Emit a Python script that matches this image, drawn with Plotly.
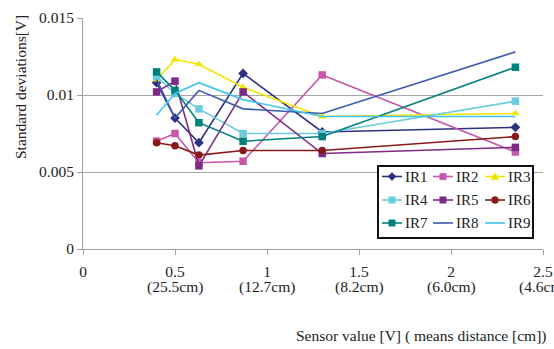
import plotly.graph_objects as go

x_vals = [0.40, 0.50, 0.63, 0.87, 1.30, 2.35]

IR1 = [0.0108, 0.0085, 0.0069, 0.0114, 0.0076, 0.0079]
IR2 = [0.0070, 0.0075, 0.0056, 0.0057, 0.0113, 0.0063]
IR3 = [0.0110, 0.0123, 0.0120, 0.0105, 0.0086, 0.0088]
IR4 = [0.0112, 0.0101, 0.0091, 0.0075, 0.0075, 0.0096]
IR5 = [0.0102, 0.0109, 0.0054, 0.0102, 0.0062, 0.0066]
IR6 = [0.0069, 0.0067, 0.0061, 0.0064, 0.0064, 0.0073]
IR7 = [0.0115, 0.0103, 0.0082, 0.0070, 0.0073, 0.0118]
IR8 = [0.0110, 0.0085, 0.0103, 0.0091, 0.0088, 0.0128]
IR9 = [0.0087, 0.0101, 0.0108, 0.0097, 0.0086, 0.0086]

series_names = ["IR1", "IR2", "IR3", "IR4", "IR5", "IR6", "IR7", "IR8", "IR9"]
series_vals = [IR1, IR2, IR3, IR4, IR5, IR6, IR7, IR8, IR9]
colors = ["#2E3080", "#C657AC", "#F2E600", "#6CCCDE", "#7E2A88",
          "#8A1A1A", "#00817E", "#3D5AAE", "#3EC6F0"]
symbols = ["diamond", "square", "triangle-up", "square", "square",
           "circle", "square", None, None]

x_tickvals = [0, 0.5, 1, 1.5, 2, 2.5]
x_ticktext = ["0", "0.5", "1", "1.5", "2", "2.5"]
x_ticksub = ["", "(25.5cm)", "(12.7cm)", "(8.2cm)", "(6.0cm)", "(4.6cm)"]
y_tickvals = [0, 0.005, 0.01, 0.015]
y_ticktext = ["0", "0.005", "0.01", "0.015"]

FONT = "Liberation Serif, DejaVu Serif, serif"
TXT = "#222222"
W, H = 554, 349
ML, MR, MT, MB = 83, 11, 18, 100
PW, PH = W - ML - MR, H - MT - MB


def px2x(px):
    return (px - ML) / PW


def py2y(py):
    return (MT + PH - py) / PH


fig = go.Figure()
for name, vals, col, sym in zip(series_names, series_vals, colors, symbols):
    if sym is None:
        fig.add_trace(go.Scatter(x=x_vals, y=vals, name=name, mode="lines",
                                 line=dict(color=col, width=1.6), showlegend=False))
    else:
        fig.add_trace(go.Scatter(x=x_vals, y=vals, name=name, mode="lines+markers",
                                 line=dict(color=col, width=1.6),
                                 marker=dict(symbol=sym, size=7.5, color=col),
                                 showlegend=False))

# ---- legend box drawn as shapes + text (3 columns x 3 rows) ----
shapes = []
annotations = []
box = dict(x0=378, x1=533, y0=166, y1=238)
shapes.append(dict(type="rect", xref="paper", yref="paper", layer="above",
                   x0=px2x(box["x0"]), x1=px2x(box["x1"]),
                   y0=py2y(box["y1"]), y1=py2y(box["y0"]),
                   line=dict(color="#111111", width=2), fillcolor="white"))
col_line_x = [382, 433, 485]
row_y = [176.5, 200, 223]
for i, (name, col, sym) in enumerate(zip(series_names, colors, symbols)):
    r, c = divmod(i, 3)
    lx0 = col_line_x[c]
    lx1 = lx0 + 20
    yy = row_y[r]
    shapes.append(dict(type="line", xref="paper", yref="paper", layer="above",
                       x0=px2x(lx0), x1=px2x(lx1), y0=py2y(yy), y1=py2y(yy),
                       line=dict(color=col, width=1.6)))
    cx, cy = px2x((lx0 + lx1) / 2), py2y(yy)
    base = dict(xref="paper", yref="paper", layer="above",
                xsizemode="pixel", ysizemode="pixel", xanchor=cx, yanchor=cy,
                fillcolor=col, line=dict(color=col, width=0.5))
    if sym == "square":
        shapes.append(dict(base, type="rect", x0=-3.2, x1=3.2, y0=-3.2, y1=3.2))
    elif sym == "circle":
        shapes.append(dict(base, type="circle", x0=-3.5, x1=3.5, y0=-3.5, y1=3.5))
    elif sym == "diamond":
        shapes.append(dict(base, type="path", path="M0,4 L4,0 L0,-4 L-4,0 Z"))
    elif sym == "triangle-up":
        shapes.append(dict(base, type="path", path="M-4,-3 L4,-3 L0,4 Z"))
    annotations.append(dict(text=name, xref="paper", yref="paper",
                            x=px2x(lx1 + 1), y=py2y(yy), xanchor="left",
                            yanchor="middle", showarrow=False,
                            font=dict(family=FONT, size=15, color=TXT)))

# second line of the x tick labels (distance in cm)
for tv, sub in zip(x_tickvals, x_ticksub):
    if sub:
        annotations.append(dict(text=sub, xref="x", yref="paper", x=tv,
                                y=py2y(287), xanchor="center", yanchor="middle",
                                showarrow=False,
                                font=dict(family=FONT, size=15.5, color=TXT)))

annotations += [
    dict(text="Standard deviations[V]", xref="paper", yref="paper",
         x=px2x(20), y=py2y(87), xanchor="center", yanchor="middle",
         textangle=-90, showarrow=False,
         font=dict(family=FONT, size=15.5, color=TXT)),
    dict(text="Sensor value [V] ( means distance [cm])", xref="paper", yref="paper",
         x=px2x(549), y=py2y(336), xanchor="right", yanchor="middle",
         showarrow=False, font=dict(family=FONT, size=15.5, color=TXT)),
]

fig.update_layout(
    width=W, height=H, autosize=False,
    margin=dict(l=ML, r=MR, t=MT, b=MB, pad=0, autoexpand=False),
    plot_bgcolor="white", paper_bgcolor="white",
    font=dict(family=FONT, size=15.5, color=TXT),
    xaxis=dict(range=[0, 2.5], tickvals=x_tickvals, ticktext=x_ticktext,
               automargin=False,
               showgrid=False, zeroline=False, showline=True, linecolor="#A0A0A0",
               linewidth=1, ticks="outside", ticklen=5, tickcolor="#A0A0A0",
               ticklabelstandoff=3,
               tickfont=dict(family=FONT, size=15.5, color=TXT)),
    yaxis=dict(range=[0, 0.015], tickvals=y_tickvals, ticktext=y_ticktext,
               automargin=False,
               showgrid=True, gridcolor="#A8A8A8", gridwidth=1, zeroline=False,
               showline=True, linecolor="#A0A0A0", linewidth=1,
               ticks="outside", ticklen=5, tickcolor="#A0A0A0",
               tickfont=dict(family=FONT, size=15.5, color=TXT)),
    showlegend=False,
    shapes=shapes,
    annotations=annotations,
)

fig.write_html("out.html", config={"displayModeBar": False},
               post_script="document.body.style.margin='0';")
